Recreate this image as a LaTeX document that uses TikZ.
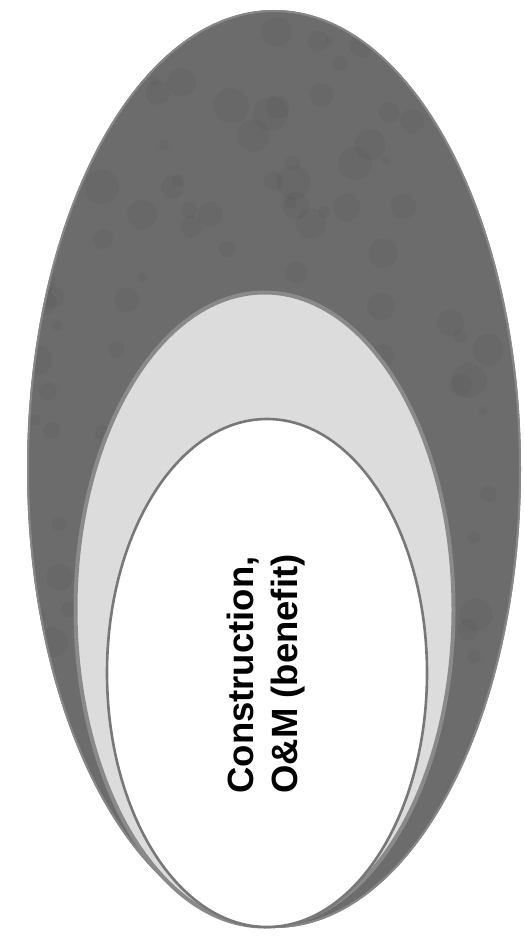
\documentclass[tikz,border=0pt]{standalone}
\usepackage{fontspec}
\setmainfont{Liberation Sans}
\definecolor{darkfill}{RGB}{108,108,108}
\definecolor{darkrim}{RGB}{135,135,135}
\definecolor{lightfill}{RGB}{220,220,220}
\definecolor{lightrim}{RGB}{138,138,138}
\definecolor{innerrim}{RGB}{120,120,120}
\begin{document}
\begin{tikzpicture}[x=1pt,y=-1pt,
  outerring/.style={fill=darkfill},
  middlering/.style={fill=lightfill,draw=lightrim,line width=4pt},
  innerring/.style={fill=white,draw=innerrim,line width=2.6pt},
  labeltext/.style={font=\bfseries\fontsize{36.5}{44}\selectfont,rotate=90,align=left,inner sep=0pt}]
\useasboundingbox (0,0) rectangle (524,941);
% outer dark ellipse
\fill[outerring] (274,469) ellipse [x radius=247pt, y radius=459pt];
\begin{scope}
  \clip (274,469) ellipse [x radius=247pt, y radius=459pt];
  \pgfmathsetseed{11}
  \foreach \i in {1,...,160}{
    \pgfmathsetmacro\px{30+rnd*480}
    \pgfmathsetmacro\py{10+rnd*880}
    \pgfmathsetmacro\pr{4+rnd*14}
    \fill[black,opacity=0.03] (\px,\py) circle [radius=\pr pt];
  }
\end{scope}
\draw[darkrim,line width=2pt] (274,469) ellipse [x radius=246pt, y radius=458pt];
% middle light ellipse
\path[middlering] (264.5,609.5) ellipse [x radius=189pt, y radius=317pt];
% inner white ellipse
\path[innerring] (267,673) ellipse [x radius=160pt, y radius=254pt];
% label
\node[labeltext] (label) at (266,674) {Construction,\\O\&M (benefit)};
\end{tikzpicture}
\end{document}
